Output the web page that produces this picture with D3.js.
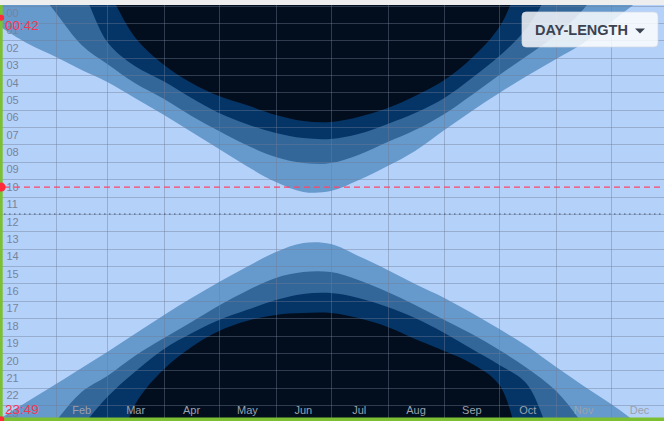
<!DOCTYPE html>
<html><head><meta charset="utf-8">
<script src="https://cdn.jsdelivr.net/npm/d3@7"></script>
<style>html,body{margin:0;padding:0;background:#eeeeee;overflow:hidden}svg{display:block}</style>
</head><body><svg id="c" width="664" height="421"></svg>
<script>
// sample dates (day of year, 2023)
const sampleDays = [0,15,31,45,59,74,90,105,120,135,151,166,181,196,212,227,243,258,273,288,304,319,334,349,364];
// hours (values outside 0..24 mean the event falls outside the day / does not occur)
const sunrise      = [1.18,2.16,2.96,3.71,4.40,5.32,6.30,7.28,8.26,9.24,10.16,10.73,10.68,10.06,9.24,8.37,7.17,6.07,5.04,4.06,3.08,2.16,0.95,-0.26,-1.35];
const civilDawn    = [-3.8,-1.76,0.43,2.27,3.37,4.46,5.38,6.36,7.22,8.03,8.72,9.06,9.06,8.60,7.86,7.17,6.24,5.15,4.00,2.91,1.70,0.20,-2.04,-3.8,-3.8];
const nauticalDawn = [-3.8,-3.8,-2.62,-0.89,2.10,3.48,4.37,5.33,6.19,6.82,7.34,7.63,7.68,7.40,6.82,6.19,5.32,4.17,2.91,1.29,-1.47,-3.8,-3.8,-3.8,-3.8];
const astroDawn    = [-3.8,-3.8,-3.8,-3.8,-1.01,1.81,3.42,4.46,5.21,5.73,6.30,6.65,6.71,6.42,5.90,5.21,4.29,3.02,1.24,-2.04,-3.8,-3.8,-3.8,-3.8,-3.8];
const sunset       = [23.80,22.82,21.78,20.86,19.94,18.91,17.81,16.83,15.91,15.05,14.19,13.67,13.73,14.42,15.22,16.03,16.83,17.70,18.62,19.60,20.81,21.90,22.94,24.09,25.24];
const civilDusk    = [28.1,26.10,23.91,22.24,21.32,20.17,19.14,18.22,17.27,16.43,15.68,15.34,15.34,15.80,16.49,17.24,18.10,18.91,19.83,20.86,22.19,24.14,26.16,28.1,28.1];
const nauticalDusk = [28.1,28.1,26.79,24.32,22.53,21.09,19.77,18.87,18.10,17.53,16.95,16.60,16.55,16.83,17.35,17.99,18.85,19.77,20.69,21.78,25.58,28.1,28.1,28.1,28.1];
const astroDusk    = [28.1,28.1,28.1,28.1,27.31,22.99,20.92,19.65,18.73,18.16,17.81,17.70,17.70,17.99,18.50,19.19,19.89,20.62,21.84,26.16,28.1,28.1,28.1,28.1,28.1];

const monthLabels = ["Jan","Feb","Mar","Apr","May","Jun","Jul","Aug","Sep","Oct","Nov","Dec"];
const hourLabels = ["00","01","02","03","04","05","06","07","08","09","10","11","12","13","14","15","16","17","18","19","20","21","22","23"];
const todaySunrise = {label:"00:42", hour:0.70};
const todaySunset  = {label:"23:49", hour:23.817};
const nowHour = 10.45;
const noonHour = 12;
const buttonLabel = "DAY-LENGTH";

const W = 664, H = 421;
const svg = d3.select("#c");
const year0 = new Date(2023,0,1), year1 = new Date(2024,0,1);
const x = d3.scaleTime().domain([year0, year1]).range([-0.8, 667.9]);
const y = d3.scaleLinear().domain([0, 24]).range([5.5, 5.5 + 17.375*24]);
const dates = sampleDays.map(d => d3.timeDay.offset(year0, d));

const colors = {day:"#b4d1fa", civil:"#6699cc", nautical:"#336699", astro:"#053566", night:"#020e1e"};
const font = "Liberation Sans, Arial, sans-serif";

svg.append("rect").attr("width", W).attr("height", H).attr("fill", "#eeeeee");
svg.append("defs").append("clipPath").attr("id","pc").append("rect")
  .attr("x",0).attr("y",5).attr("width",W).attr("height",413);
const g = svg.append("g").attr("clip-path","url(#pc)");
g.append("rect").attr("x",0).attr("y",5).attr("width",W).attr("height",413).attr("fill",colors.day);

const curve = d3.curveCatmullRom.alpha(0.5);
const topArea = d3.area().x((d,i)=>x(dates[i])).y0(y(-6)).y1(d=>y(d)).curve(curve);
const botArea = d3.area().x((d,i)=>x(dates[i])).y0(y(30)).y1(d=>y(d)).curve(curve);
[[sunrise,colors.civil],[civilDawn,colors.nautical],[nauticalDawn,colors.astro],[astroDawn,colors.night]]
  .forEach(([v,c]) => g.append("path").attr("d", topArea(v)).attr("fill", c));
[[sunset,colors.civil],[civilDusk,colors.nautical],[nauticalDusk,colors.astro],[astroDusk,colors.night]]
  .forEach(([v,c]) => g.append("path").attr("d", botArea(v)).attr("fill", c));

// grid
const gridColor = "rgba(110,125,150,0.42)";
g.append("g").selectAll("line").data(d3.range(0,25)).join("line")
  .attr("x1",0).attr("x2",W).attr("y1",d=>Math.round(y(d))+0.5).attr("y2",d=>Math.round(y(d))+0.5)
  .attr("stroke",gridColor).attr("stroke-width",1);
const monthStarts = d3.timeMonth.range(year0, year1);
g.append("g").selectAll("line").data(monthStarts.slice(1)).join("line")
  .attr("y1",5).attr("y2",H).attr("x1",d=>Math.round(x(d))+0.5).attr("x2",d=>Math.round(x(d))+0.5)
  .attr("stroke",gridColor).attr("stroke-width",1);

// noon dotted line
g.append("line").attr("x1",4).attr("x2",W).attr("y1",y(noonHour)).attr("y2",y(noonHour))
  .attr("stroke","rgba(55,65,85,0.85)").attr("stroke-width",1).attr("stroke-dasharray","1.5,3.5");

// hour labels
svg.append("g").selectAll("text").data(hourLabels).join("text")
  .attr("x",6.5).attr("y",(d,i)=>y(i)+11.5)
  .attr("font-family",font).attr("font-size",11)
  .attr("fill","#78849a").text(d=>d);

// month labels (January's label is hidden behind the sunset time in the reference)
svg.append("g").selectAll("text").data(monthStarts.slice(1)).join("text")
  .attr("x",d=>(x(d)+x(d3.timeMonth.offset(d,1)))/2).attr("y",413.5)
  .attr("text-anchor","middle")
  .attr("font-family",font).attr("font-size",11)
  .attr("fill","#9aa1ad").text(d=>monthLabels[d.getMonth()]);

// now dashed line
svg.append("line").attr("x1",4).attr("x2",W).attr("y1",y(nowHour)).attr("y2",y(nowHour))
  .attr("stroke","#ff4468").attr("stroke-width",1.3).attr("stroke-dasharray","6,4");

// red labels
svg.append("text").attr("x",5).attr("y",30).attr("font-family",font)
  .attr("font-size",13.5).attr("fill","#ff3355").text(todaySunrise.label);
svg.append("text").attr("x",5).attr("y",413.5).attr("font-family",font)
  .attr("font-size",13.5).attr("fill","#ff3355").text(todaySunset.label);

// button
const b = svg.append("g");
b.append("rect").attr("x",522).attr("y",12).attr("width",136).attr("height",35).attr("rx",4)
  .attr("fill","rgba(255,255,255,0.82)").attr("stroke","rgba(210,215,225,0.7)");
b.append("text").attr("x",535).attr("y",34.5).attr("font-family",font)
  .attr("font-size",14.5).attr("font-weight","bold").attr("fill","#3c4350").text(buttonLabel);
b.append("path").attr("d","M635,28.5 L645,28.5 L640,33.5 Z").attr("fill","#3c4350");

// frame bars
svg.append("rect").attr("x",0).attr("y",0).attr("width",W).attr("height",5).attr("fill","#eeeeee");
svg.append("rect").attr("x",0).attr("y",5).attr("width",2.7).attr("height",H).attr("fill","#7dbf33");
svg.append("rect").attr("x",0).attr("y",417.5).attr("width",W).attr("height",4).attr("fill","#7dbf33");

// red markers
[[todaySunrise.hour,3],[todaySunset.hour,3],[nowHour,4.5]].forEach(([h,r]) =>
  svg.append("circle").attr("cx",1.2).attr("cy",y(h)).attr("r",r).attr("fill","#ff2a3a"));
</script>
</body></html>
